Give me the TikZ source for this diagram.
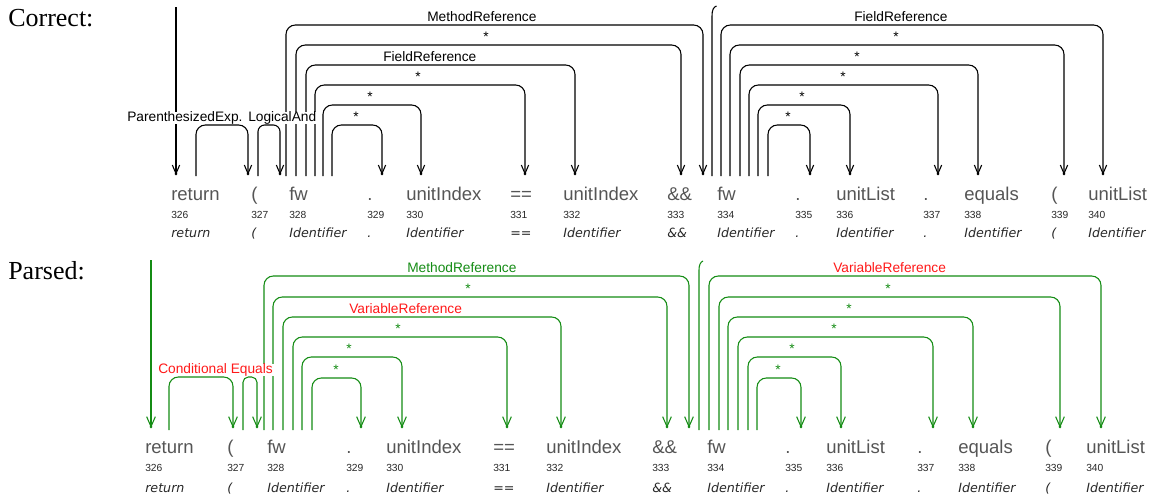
\documentclass[tikz,border=0pt]{standalone}
\usepackage{fontspec}
\setmainfont{Liberation Sans}
\newfontfamily\headface{Liberation Serif}
\newfontfamily\typeface{DejaVu Sans}
\usetikzlibrary{arrows.meta}

\definecolor{tokgray}{RGB}{85,85,85}
\definecolor{infogray}{RGB}{40,40,40}
\definecolor{parsegreen}{RGB}{20,140,20}
\definecolor{errred}{RGB}{255,25,25}

\tikzset{
  head/.style={anchor=base west, inner sep=0pt, font=\headface\fontsize{19.5}{20}\selectfont},
  tok/.style={anchor=base west, inner sep=0pt, text=tokgray, font=\fontsize{13.9}{14}\selectfont},
  num/.style={anchor=base west, inner sep=0pt, text=infogray, font=\fontsize{7.7}{8}\selectfont},
  typ/.style={anchor=base west, inner sep=0pt, text=infogray, font=\typeface\itshape\fontsize{9.5}{10}\selectfont},
  lbl/.style={anchor=base west, fill=white, inner xsep=0.8pt, inner ysep=0pt, xshift=-0.8pt, font=\fontsize{10.3}{11}\selectfont},
  star/.style={anchor=base, fill=white, inner xsep=0.5pt, inner ysep=0pt, font=\fontsize{10.3}{11}\selectfont},
  tipsize/.style={-{Straight Barb[length=6.5pt,width=5.5pt]}},
  dep/.style={line width=0.8pt, rounded corners=7pt, tipsize},
  bare/.style={line width=0.8pt},
  dot/.style={radius=1.1pt},
}

% one dependency arc: name, extra style, source x, target x, top y, source bottom y, tip y
\newcommand\deparc[7]{%
  \coordinate (#1s) at (#3,#6);
  \coordinate (#1t) at (#4,#7);
  \draw[dep,#2] (#1s) -- (#3,#5) -- (#4,#5) -- (#1t);
  \fill ([yshift=0.9pt]#1t) circle[dot];
}

\begin{document}
\begin{tikzpicture}[x=0.75pt,y=-0.75pt]
\useasboundingbox (0,0) rectangle (1150,501);

% ---------- headings ----------
\node[head] (hcorrect) at (8,26) {Correct:};
\node[head] (hparsed) at (8,279) {Parsed:};

% ---------- token rows ----------
\foreach \x/\w/\n/\ty [count=\i] in {
  171/return/326/return, 251/{(}/327/{(}, 289/fw/328/Identifier,
  367/./329/., 406/unitIndex/330/Identifier, 510/==/331/==,
  563/unitIndex/332/Identifier, 667/\&\&/333/\&\&, 717/fw/334/Identifier,
  795/./335/., 836/unitList/336/Identifier, 923/./337/.,
  964/equals/338/Identifier, 1051/{(}/339/{(}, 1088/unitList/340/Identifier}{
  \node[tok] (ct\i) at (\x,200) {\w};
  \node[num] (cn\i) at (\x,218.5) {\n};
  \node[typ] (cy\i) at (\x,237) {\ty};
}
\foreach \x/\w/\n/\ty [count=\i] in {
  145/return/326/return, 227/{(}/327/{(}, 267/fw/328/Identifier,
  346/./329/., 386/unitIndex/330/Identifier, 493/==/331/==,
  546/unitIndex/332/Identifier, 652/\&\&/333/\&\&, 707/fw/334/Identifier,
  785/./335/., 826/unitList/336/Identifier, 917/./337/.,
  958/equals/338/Identifier, 1045/{(}/339/{(}, 1086/unitList/340/Identifier}{
  \node[tok] (pt\i) at (\x,453) {\w};
  \node[num] (pn\i) at (\x,471.5) {\n};
  \node[typ] (py\i) at (\x,492) {\ty};
}

% ---------- correct structure ----------
\coordinate (croot) at (176,7);
\coordinate (crootend) at (176,175);
\draw[dep] (croot) -- (crootend);
\fill ([yshift=0.9pt]crootend) circle[dot];

\deparc{ca}{}{196}{248}{125}{176}{175}
\deparc{cb}{rounded corners=5pt}{258}{280}{125}{176}{175}
\deparc{cc}{}{286}{703}{25}{176}{175}
\deparc{cd}{}{296}{681}{45}{176}{175}
\deparc{ce}{}{306}{575}{65}{176}{175}
\deparc{cf}{}{315}{525}{85}{176}{175}
\deparc{cg}{}{323}{421}{105}{176}{175}
\deparc{ch}{}{332}{382}{125}{176}{175}

\coordinate (cups) at (712,176);
\coordinate (cupe) at (716.5,6);
\draw[bare] (cups) -- (712,16) .. controls (712,10) and (713.5,7) .. (cupe);

\deparc{ci}{}{721}{1103}{25}{176}{175}
\deparc{cj}{}{730}{1064}{45}{176}{175}
\deparc{ck}{}{740}{978}{65}{176}{175}
\deparc{cl}{}{749}{938}{85}{176}{175}
\deparc{cm}{}{758}{850}{105}{176}{175}
\deparc{cn}{}{768}{810}{125}{176}{175}

\node[lbl] (lpar) at (127,121.5) {ParenthesizedExp.};
\node[lbl] (land) at (248,121.5) {LogicalAnd};
\node[lbl] (lmeth) at (427,21.5) {MethodReference};
\node[star] (s1) at (486,41.5) {*};
\node[lbl] (lfield) at (383,61.5) {FieldReference};
\node[star] (s2) at (418,81.5) {*};
\node[star] (s3) at (370,101.5) {*};
\node[star] (s4) at (356,121.5) {*};
\node[lbl] (lfield2) at (854,21.5) {FieldReference};
\node[star] (s5) at (896,41.5) {*};
\node[star] (s6) at (857,61.5) {*};
\node[star] (s7) at (843,81.5) {*};
\node[star] (s8) at (802,101.5) {*};
\node[star] (s9) at (788,121.5) {*};

% ---------- parsed structure ----------
\begin{scope}[draw=parsegreen, fill=parsegreen, text=parsegreen,
  tipsize/.style={-{Straight Barb[length=7.5pt,width=6.5pt]}}]
\coordinate (proot) at (151,260);
\coordinate (prootend) at (151,428);
\draw[dep] (proot) -- (prootend);
\fill ([yshift=0.9pt]prootend) circle[dot];

\deparc{pa}{}{169}{233}{377}{430}{428}
\deparc{pb}{rounded corners=4pt}{243}{257}{377}{430}{428}
\deparc{pc}{}{264}{689}{276}{430}{428}
\deparc{pd}{}{273}{667}{297}{430}{428}
\deparc{pe}{}{283}{561}{317}{430}{428}
\deparc{pf}{}{293}{507}{337}{430}{428}
\deparc{pg}{}{302}{402}{357}{430}{428}
\deparc{ph}{}{312}{361}{378}{430}{428}

\coordinate (pups) at (699,430);
\coordinate (pupe) at (703,261);
\draw[bare] (pups) -- (699,270) .. controls (699,265) and (700.5,262) .. (pupe);

\deparc{pi}{}{709}{1101}{276}{430}{428}
\deparc{pj}{}{719}{1060}{297}{430}{428}
\deparc{pk}{}{728}{973}{317}{430}{428}
\deparc{pl}{}{738}{933}{337}{430}{428}
\deparc{pm}{}{748}{841}{357}{430}{428}
\deparc{pn}{}{757}{801}{378}{430}{428}

\node[lbl, fill=white, text=errred] (qcond) at (158,373.5) {Conditional Equals};
\node[lbl, fill=white] (qmeth) at (407,272.5) {MethodReference};
\node[star, fill=white] (q1) at (468,293.5) {*};
\node[lbl, fill=white, text=errred] (qvar) at (349,313.5) {VariableReference};
\node[star, fill=white] (q2) at (398,333.5) {*};
\node[star, fill=white] (q3) at (349,353.5) {*};
\node[star, fill=white] (q4) at (336,374) {*};
\node[lbl, fill=white, text=errred] (qvar2) at (833,272.5) {VariableReference};
\node[star, fill=white] (q5) at (888,293.5) {*};
\node[star, fill=white] (q6) at (849,313.5) {*};
\node[star, fill=white] (q7) at (834,333.5) {*};
\node[star, fill=white] (q8) at (792,353.5) {*};
\node[star, fill=white] (q9) at (778,374) {*};
\end{scope}
\end{tikzpicture}
\end{document}
